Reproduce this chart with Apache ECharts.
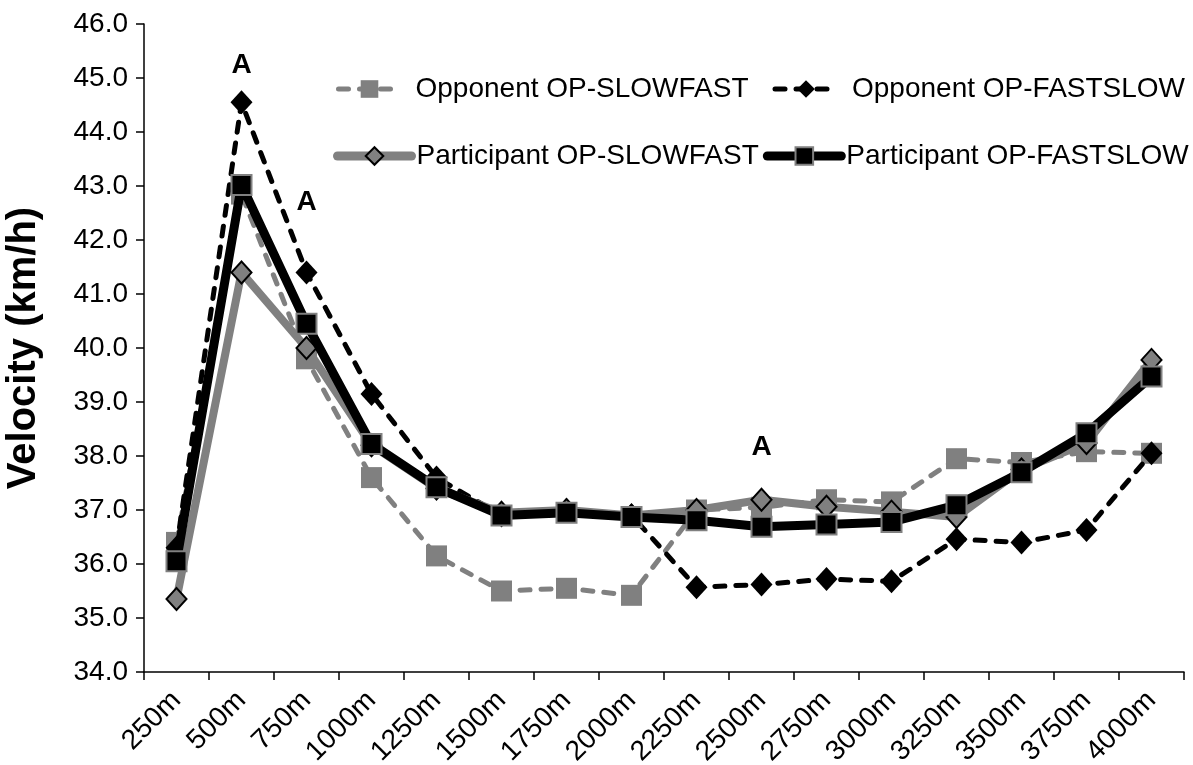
<!DOCTYPE html>
<html>
<head>
<meta charset="utf-8">
<script src="https://cdn.jsdelivr.net/npm/echarts@6/dist/echarts.min.js"></script>
<style>
html,body{margin:0;padding:0;background:#fff;}
#chart{width:1193px;height:765px;}
</style>
</head>
<body>
<div id="chart"></div>
<script>
const categories = ['250m','500m','750m','1000m','1250m','1500m','1750m','2000m','2250m','2500m','2750m','3000m','3250m','3500m','3750m','4000m'];
const yTicks = [34,35,36,37,38,39,40,41,42,43,44,45,46];
const oppSlowFast  = [36.4, 42.85, 39.8, 37.6, 36.15, 35.5, 35.55, 35.42, 37.0, 37.05, 37.19, 37.15, 37.95, 37.88, 38.08, 38.05];
const oppFastSlow  = [36.3, 44.55, 41.4, 39.15, 37.6, 36.9, 37.0, 36.9, 35.57, 35.62, 35.72, 35.68, 36.46, 36.4, 36.63, 38.05];
const partSlowFast = [35.35, 41.4, 40.0, 38.2, 37.4, 36.95, 37.0, 36.9, 37.0, 37.19, 37.06, 36.97, 36.87, 37.75, 38.24, 39.78];
const partFastSlow = [36.05, 43.02, 40.45, 38.22, 37.42, 36.9, 36.95, 36.87, 36.81, 36.69, 36.73, 36.78, 37.09, 37.7, 38.42, 39.47];
const annotations = [['500m', 45.24], ['750m', 42.70], ['2500m', 38.17]];
const seriesNames = ['Opponent OP-SLOWFAST','Opponent OP-FASTSLOW','Participant OP-SLOWFAST','Participant OP-FASTSLOW'];

const FONT = '"Liberation Sans", Arial, sans-serif';
const GRAY = '#808080';
const DASH = [10, 11];
const chart = echarts.init(document.getElementById('chart'), null, {renderer:'canvas'});
const option = {
  animation: false,
  backgroundColor: '#fff',
  textStyle: {fontFamily: FONT, color: '#000'},
  grid: {left: 144, top: 24, right: 9, bottom: 93, containLabel: false, outerBoundsMode: 'none'},
  legend: [
    {
      data: [
        {name: seriesNames[0], lineStyle: {width: 5, type: DASH, cap: 'round', color: GRAY}},
        {name: seriesNames[1], lineStyle: {width: 5, type: DASH, cap: 'round', color: '#000'}}
      ],
      left: 336, top: 75, width: 900, padding: 0, orient: 'horizontal',
      itemWidth: 62, itemHeight: 22, itemGap: 24,
      textStyle: {fontFamily: FONT, fontSize: 28, color: '#000', padding: [0,0,0,10]}
    },
    {
      data: [
        {name: seriesNames[2], lineStyle: {width: 9, color: GRAY, cap: 'round'}},
        {name: seriesNames[3], lineStyle: {width: 9, color: '#000', cap: 'round'}}
      ],
      left: 333, top: 142, width: 900, padding: 0, orient: 'horizontal',
      itemWidth: 74, itemHeight: 22, itemGap: 4,
      textStyle: {fontFamily: FONT, fontSize: 28, color: '#000'}
    }
  ],
  xAxis: {
    type: 'category',
    data: categories,
    boundaryGap: true,
    axisLine: {lineStyle: {color: '#000', width: 1.5}},
    axisTick: {show: true, length: 8, inside: false, alignWithLabel: false, lineStyle: {color: '#000', width: 1.5}},
    axisLabel: {rotate: 45, fontSize: 28, color: '#000', fontFamily: FONT, margin: 24, interval: 0},
    splitLine: {show: false}
  },
  yAxis: {
    type: 'value',
    min: yTicks[0], max: yTicks[yTicks.length-1], interval: 1,
    name: 'Velocity (km/h)',
    nameLocation: 'middle', nameRotate: 90, nameGap: 100,
    nameTextStyle: {fontSize: 40, fontWeight: 'bold', color: '#000', fontFamily: FONT},
    axisLine: {show: true, lineStyle: {color: '#000', width: 1.5}},
    axisTick: {show: true, length: 8, lineStyle: {color: '#000', width: 1.5}},
    axisLabel: {fontSize: 28, color: '#000', fontFamily: FONT, margin: 16, formatter: v => v.toFixed(1)},
    splitLine: {show: false}
  },
  series: [
    {
      name: seriesNames[0], type: 'line', data: oppSlowFast,
      symbol: 'rect', symbolSize: 21,
      itemStyle: {color: GRAY, borderWidth: 0},
      lineStyle: {color: GRAY, width: 5, type: DASH, cap: 'round'},
      z: 2
    },
    {
      name: seriesNames[1], type: 'line', data: oppFastSlow,
      symbol: 'diamond', symbolSize: [22, 24],
      itemStyle: {color: '#000', borderWidth: 0},
      lineStyle: {color: '#000', width: 5, type: DASH, cap: 'round'},
      z: 3,
      markPoint: {
        symbol: 'rect', symbolSize: 1,
        itemStyle: {color: 'rgba(0,0,0,0)'},
        label: {show: true, position: 'inside', formatter: 'A', fontSize: 28, fontWeight: 'bold', color: '#000', fontFamily: FONT},
        data: annotations.map(a => ({coord: a}))
      }
    },
    {
      name: seriesNames[2], type: 'line', data: partSlowFast,
      symbol: 'diamond', symbolSize: [20, 22],
      itemStyle: {color: GRAY, borderColor: '#000', borderWidth: 2},
      lineStyle: {color: GRAY, width: 8},
      z: 4
    },
    {
      name: seriesNames[3], type: 'line', data: partFastSlow,
      symbol: 'rect', symbolSize: 20,
      itemStyle: {color: '#000', borderColor: GRAY, borderWidth: 2},
      lineStyle: {color: '#000', width: 9},
      z: 5
    }
  ]
};
chart.setOption(option);
</script>
</body>
</html>
